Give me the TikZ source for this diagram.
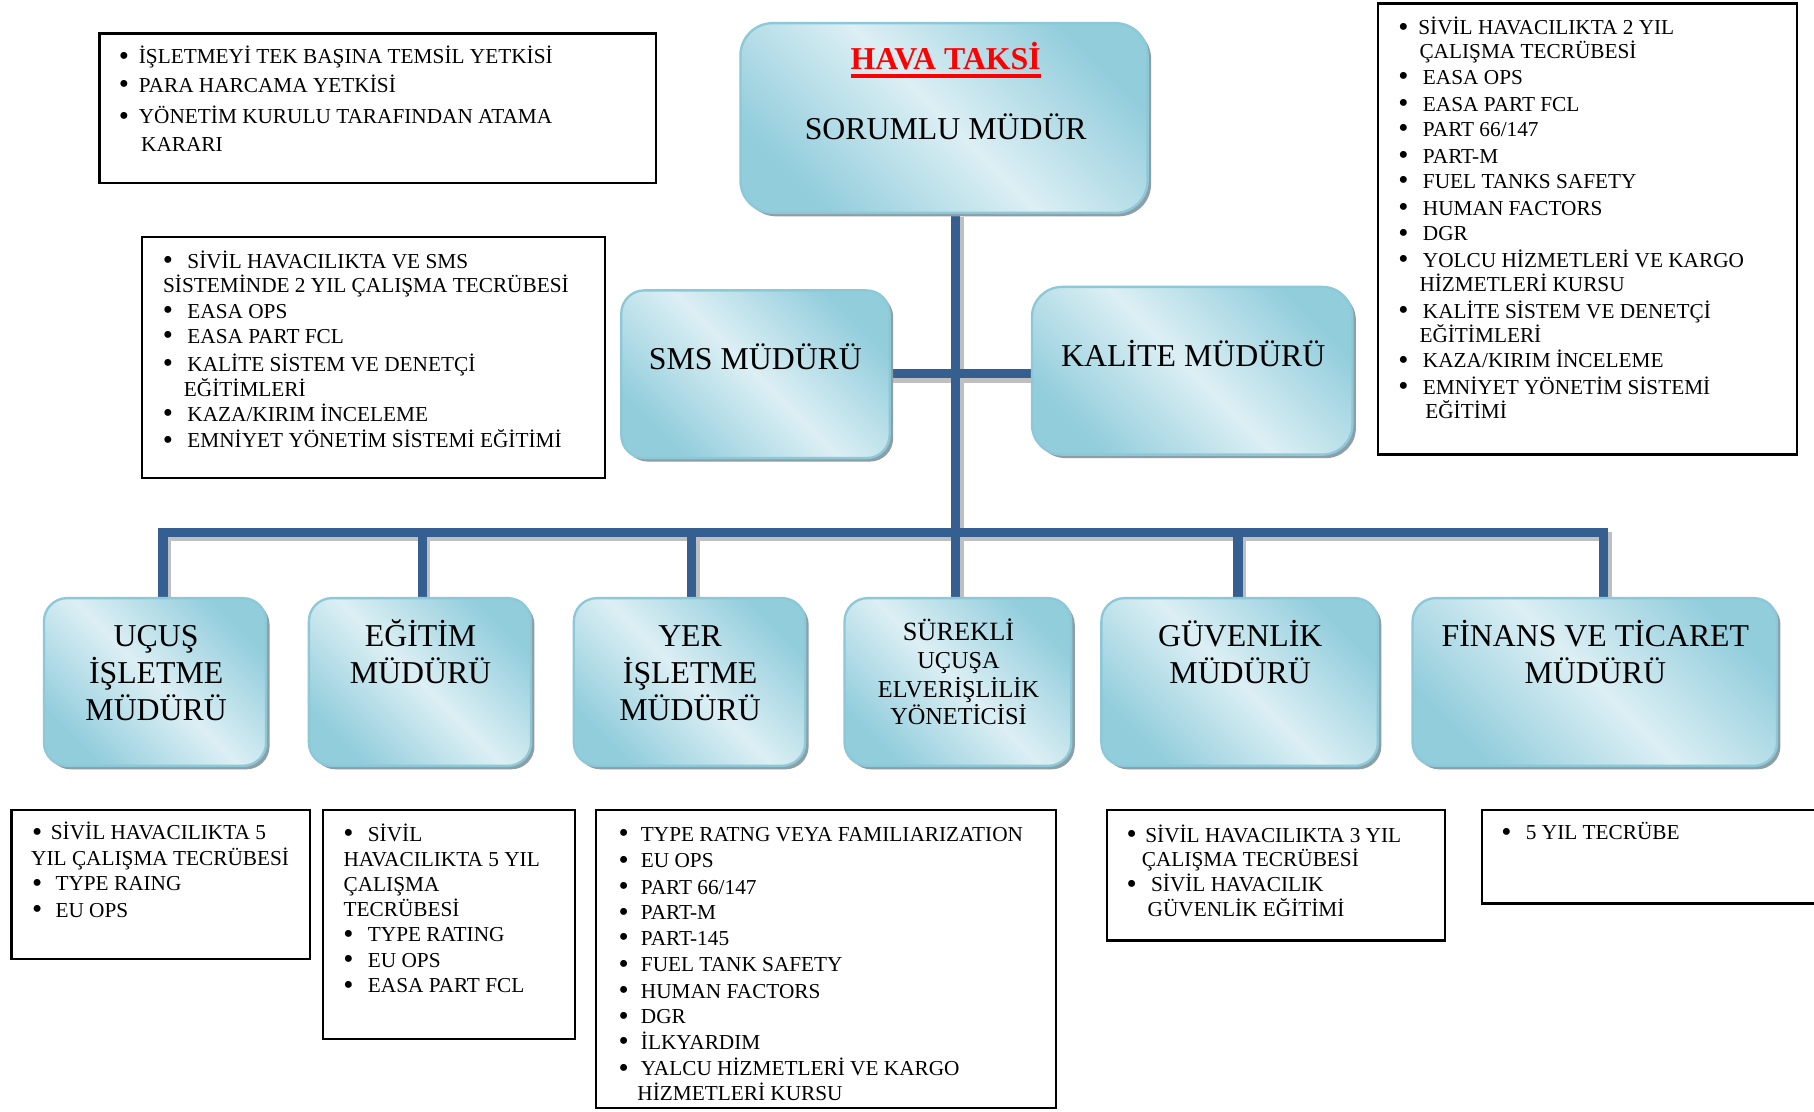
\documentclass[tikz,border=0pt]{standalone}
\usepackage{fontspec}
\setmainfont{Liberation Serif}
\usetikzlibrary{shadows,fit,calc}
\pgfdeclarelayer{bg}
\pgfsetlayers{bg,main}
\definecolor{boxdark}{RGB}{146,205,220}
\definecolor{boxlight}{RGB}{220,239,244}
\definecolor{boxedge}{RGB}{140,200,216}
\definecolor{boxshadow}{RGB}{140,158,166}
\definecolor{connblue}{RGB}{54,95,145}
\definecolor{connshadow}{RGB}{191,191,191}
\newcounter{tlc}
\newcommand\bigbul{\raisebox{-0.6pt}{\fontsize{12.5pt}{12pt}\selectfont\textbullet}}
\newcommand\Ln[3]{\stepcounter{tlc}\edef\lnname{ln\arabic{tlc}}%
  \node[txt,anchor=base west] (\lnname) at (#1,#2) {#3};}
\newcommand\Bl[4]{\pgfmathsetmacro\bw{(#2-#1+4.2)*0.5}%
  \Ln{#1-4.2}{#3+6}{\makebox[\bw pt][l]{\bigbul}#4}}
\newcommand\Cl[3]{\Ln{#1}{#2+6}{#3}}
\newcommand\Ct[3]{\stepcounter{tlc}\edef\lnname{ct\arabic{tlc}}%
  \node[bigtxt,anchor=base] (\lnname) at (#1,#2) {#3};}
\newcommand\Cs[4]{\stepcounter{tlc}\edef\lnname{cs\arabic{tlc}}%
  \node[midtxt,anchor=base,font=\fontsize{#3}{12pt}\selectfont] (\lnname) at (#1,#2) {#4};}
\begin{document}
\begin{tikzpicture}[x=0.5pt,y=-0.5pt,
  gbox/.style={draw=boxedge, line width=1pt, rounded corners=10pt,
    top color=boxdark, bottom color=boxdark, middle color=boxlight, shading angle=-45,
    drop shadow={shadow xshift=1.5pt, shadow yshift=-1.5pt, fill=boxshadow, opacity=1},
    inner sep=0pt, outer sep=0pt},
  lbox/.style={draw=black, line width=1pt, fill=white, inner sep=0pt, outer sep=0pt},
  txt/.style={inner sep=0pt, outer sep=0pt, font=\fontsize{9.2pt}{11pt}\selectfont},
  bigtxt/.style={inner sep=0pt, outer sep=0pt, font=\fontsize{13.75pt}{16pt}\selectfont},
  midtxt/.style={inner sep=0pt, outer sep=0pt},
  conn/.style={draw=connblue, line width=4pt, line join=miter},
  connsh/.style={draw=connshadow, line width=4pt, line join=miter,
    transform canvas={xshift=1.5pt,yshift=-2pt}}]
\useasboundingbox (0,0) rectangle (1568,961);

% gradient boxes
\node[gbox, rounded corners=14pt, fit={(640,20) (992,184)}] (top) {};
\node[gbox, fit={(537,251) (769,396)}] (sms) {};
\node[gbox, rounded corners=13pt, fit={(892,248) (1169,393)}] (kal) {};
\node[gbox, fit={(38,517) (230,662)}] (ucus) {};
\node[gbox, fit={(267,517) (459,662)}] (egit) {};
\node[gbox, fit={(496,517) (696,662)}] (yer) {};
\node[gbox, fit={(730,517) (926,662)}] (sur) {};
\node[gbox, fit={(952,517) (1191,662)}] (guv) {};
\node[gbox, fit={(1221,517) (1536,662)}] (fin) {};

% list boxes
\node[lbox, fit={(86,29) (567,158)}] (tl) {};
\node[lbox, fit={(123,205) (523,413)}] (smsl) {};
\node[lbox, fit={(1191,3) (1553,393)}] (tr) {};
\node[lbox, fit={(10,700) (268,829)}] (b1) {};
\node[lbox, fit={(279,700) (497,898)}] (b2) {};
\node[lbox, fit={(515,700) (913,958)}] (b3) {};
\node[lbox, fit={(957,700) (1249,813)}] (b4) {};
\node[lbox, fit={(1281,700) (1580,781)}] (b5) {};

% connectors
\coordinate (jt) at (826,323);
\coordinate (d1) at (141,460);
\coordinate (d2) at (365,460);
\coordinate (d3) at (598,460);
\coordinate (d5) at (1070,460);
\coordinate (d6) at (1386,460);
\begin{pgfonlayer}{bg}
\fill[white] (0,0) rectangle (1568,961);
\draw[connsh] (top.south -| jt) -- (sur.north -| jt);
\draw[connsh] (sms.east |- jt) -- (kal.west |- jt);
\draw[connsh] (d1 |- ucus.north) -- (d1) -- (d6) -- (d6 |- fin.north);
\draw[connsh] (d2) -- (d2 |- egit.north);
\draw[connsh] (d3) -- (d3 |- yer.north);
\draw[connsh] (d5) -- (d5 |- guv.north);
\draw[conn] (top.south -| jt) -- (sur.north -| jt);
\draw[conn] (sms.east |- jt) -- (kal.west |- jt);
\draw[conn] (d1 |- ucus.north) -- (d1) -- (d6) -- (d6 |- fin.north);
\draw[conn] (d2) -- (d2 |- egit.north);
\draw[conn] (d3) -- (d3 |- yer.north);
\draw[conn] (d5) -- (d5 |- guv.north);
\end{pgfonlayer}

% big box texts
\node[bigtxt, anchor=base, text=red, font=\fontsize{13.75pt}{16pt}\selectfont\bfseries] (hava) at (817.5,60.5) {HAVA TAKSİ};
\draw[red, line width=1.5pt] ([yshift=-2.6pt]hava.base west) -- ([yshift=-2.6pt]hava.base east);
\Ct{817.5}{121}{SORUMLU MÜDÜR}
\Ct{653}{319}{SMS MÜDÜRÜ}
\Ct{1031.5}{317}{KALİTE MÜDÜRÜ}
\Ct{135}{559}{UÇUŞ}
\Ct{135}{591}{İŞLETME}
\Ct{135}{623}{MÜDÜRÜ}
\Ct{363.5}{559}{EĞİTİM}
\Ct{363.5}{591}{MÜDÜRÜ}
\Ct{596.5}{559}{YER}
\Ct{596.5}{591}{İŞLETME}
\Ct{596.5}{623}{MÜDÜRÜ}
\Cs{828.5}{553.5}{11.4pt}{SÜREKLİ}
\Cs{828.5}{578}{10.5pt}{UÇUŞA}
\Cs{828.5}{603}{10.5pt}{ELVERİŞLİLİK}
\Cs{828.5}{626}{10.5pt}{YÖNETİCİSİ}
\Ct{1072}{559}{GÜVENLİK}
\Ct{1072}{591}{MÜDÜRÜ}
\Ct{1379}{559}{FİNANS VE TİCARET}
\Ct{1379}{591}{MÜDÜRÜ}

% top-left list
\Bl{107}{120}{49}{İŞLETMEYİ TEK BAŞINA TEMSİL YETKİSİ}
\Bl{107}{120}{74}{PARA HARCAMA YETKİSİ}
\Bl{107}{120}{101}{YÖNETİM KURULU TARAFINDAN ATAMA}
\Cl{122}{125}{KARARI}

% SMS list
\Bl{145}{162}{226}{SİVİL HAVACILIKTA VE SMS}
\Cl{141}{247}{SİSTEMİNDE 2 YIL ÇALIŞMA TECRÜBESİ}
\Bl{145}{162}{269}{EASA OPS}
\Bl{145}{162}{291}{EASA PART FCL}
\Bl{145}{162}{315}{KALİTE SİSTEM VE DENETÇİ}
\Cl{159}{337}{EĞİTİMLERİ}
\Bl{145}{162}{358}{KAZA/KIRIM İNCELEME}
\Bl{145}{162}{381}{EMNİYET YÖNETİM SİSTEMİ EĞİTİMİ}

% top-right list
\Bl{1213}{1226}{24}{SİVİL HAVACILIKTA 2 YIL}
\Cl{1227}{45}{ÇALIŞMA TECRÜBESİ}
\Bl{1213}{1230}{67}{EASA OPS}
\Bl{1213}{1230}{90}{EASA PART FCL}
\Bl{1213}{1230}{112}{PART 66/147}
\Bl{1213}{1230}{135}{PART-M}
\Bl{1213}{1230}{157}{FUEL TANKS SAFETY}
\Bl{1213}{1230}{180}{HUMAN FACTORS}
\Bl{1213}{1230}{202}{DGR}
\Bl{1213}{1230}{225}{YOLCU HİZMETLERİ VE KARGO}
\Cl{1227}{246}{HİZMETLERİ KURSU}
\Bl{1213}{1230}{269}{KALİTE SİSTEM VE DENETÇİ}
\Cl{1227}{290}{EĞİTİMLERİ}
\Bl{1213}{1230}{312}{KAZA/KIRIM İNCELEME}
\Bl{1213}{1230}{335}{EMNİYET YÖNETİM SİSTEMİ}
\Cl{1232}{356}{EĞİTİMİ}

% b1
\Bl{32}{44}{720}{SİVİL HAVACILIKTA 5}
\Cl{27}{742}{YIL ÇALIŞMA TECRÜBESİ}
\Bl{32}{48}{764}{TYPE RAING}
\Bl{32}{48}{787}{EU OPS}

% b2
\Bl{301}{318}{721}{SİVİL}
\Cl{297}{743}{HAVACILIKTA 5 YIL}
\Cl{297}{765}{ÇALIŞMA}
\Cl{297}{786}{TECRÜBESİ}
\Bl{301}{318}{808}{TYPE RATING}
\Bl{301}{318}{830}{EU OPS}
\Bl{301}{318}{852}{EASA PART FCL}

% b3
\Bl{539}{554}{721}{TYPE RATNG VEYA FAMILIARIZATION}
\Bl{539}{554}{744}{EU OPS}
\Bl{539}{554}{767}{PART 66/147}
\Bl{539}{554}{789}{PART-M}
\Bl{539}{554}{811}{PART-145}
\Bl{539}{554}{834}{FUEL TANK SAFETY}
\Bl{539}{554}{857}{HUMAN FACTORS}
\Bl{539}{554}{879}{DGR}
\Bl{539}{554}{901}{İLKYARDIM}
\Bl{539}{554}{924}{YALCU HİZMETLERİ VE KARGO}
\begin{scope}
\clip (515,700) rectangle (913,951);
\Cl{551}{945}{HİZMETLERİ KURSU}
\end{scope}

% b4
\Bl{978}{990}{722}{SİVİL HAVACILIKTA 3 YIL}
\Cl{987}{743}{ÇALIŞMA TECRÜBESİ}
\Bl{978}{995}{765}{SİVİL HAVACILIK}
\Cl{992}{786}{GÜVENLİK EĞİTİMİ}

% b5
\Bl{1302}{1319}{720}{5 YIL TECRÜBE}
\end{tikzpicture}
\end{document}
